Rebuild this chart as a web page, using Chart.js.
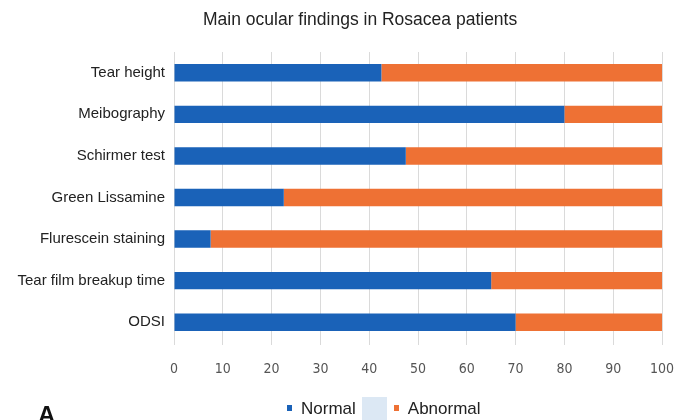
<!DOCTYPE html>
<html>
<head>
<meta charset="utf-8">
<script src="https://cdn.jsdelivr.net/npm/chart.js@4"></script>
<style>
    html, body { margin: 0; padding: 0; background: #fff; }
    .wrap { position: relative; width: 686px; height: 420px; overflow: hidden; }
    .chart-title { position: absolute; left: 203px; top: 9px; font: 17.5px "Liberation Sans", Arial, sans-serif; color: #222; white-space: nowrap; }
    .legend { position: absolute; left: 287px; top: 399px; font: 17px "Liberation Sans", Arial, sans-serif; color: #222; white-space: nowrap; }
    .legend span.item { display: inline-block; margin-right: 38px; }
    .legend i { display: inline-block; width: 5px; height: 6px; margin-right: 9px; vertical-align: 3px; }
    .legend-gap { position: absolute; left: 362px; top: 397px; width: 25px; height: 23px; background: #dce8f4; }
    .panel-label { position: absolute; left: 38px; top: 401px; font: bold 24px "Liberation Sans", Arial, sans-serif; color: #111; }
</style>
</head>
<body>
<div class="wrap">
    <canvas id="findingsChart" width="686" height="420"></canvas>
    <div class="chart-title">Main ocular findings in Rosacea patients</div>
    <div class="legend-gap"></div>
    <div class="legend" id="legend"></div>
    <div class="panel-label">A</div>
</div>
<script>
    // Data
    const categories = ["Tear height", "Meibography", "Schirmer test", "Green Lissamine", "Flurescein staining", "Tear film breakup time", "ODSI"];
    const normalValues = [42.5, 80, 47.5, 22.5, 7.5, 65, 70];
    const abnormalValues = [57.5, 20, 52.5, 77.5, 92.5, 35, 30];
    const xTicks = [0, 10, 20, 30, 40, 50, 60, 70, 80, 90, 100];

    const chart = new Chart(document.getElementById("findingsChart"), {
        type: "bar",
        data: {
            labels: categories,
            datasets: [
                { label: "Normal", data: normalValues, backgroundColor: "#1a62b8", barPercentage: 0.84, categoryPercentage: 0.5 },
                { label: "Abnormal", data: abnormalValues, backgroundColor: "#ee7134", barPercentage: 0.84, categoryPercentage: 0.5 }
            ]
        },
        options: {
            indexAxis: "y",
            responsive: false,
            animation: false,
            layout: { padding: { left: 0, right: 24, top: 52, bottom: 0 } },
            plugins: {
                legend: { display: false },
                tooltip: { enabled: false }
            },
            scales: {
                x: {
                    stacked: true,
                    min: 0,
                    max: 100,
                    afterBuildTicks: axis => { axis.ticks = xTicks.map(v => ({ value: v })); },
                    afterFit: axis => { axis.height = 77; axis.paddingLeft = 0; axis.paddingRight = 0; },
                    grid: { color: "#dadada", drawTicks: true, tickLength: 2 },
                    border: { display: false },
                    ticks: { color: "#555", font: { family: "'DejaVu Sans Condensed', sans-serif", size: 14 }, padding: 16 }
                },
                y: {
                    stacked: true,
                    afterFit: axis => { axis.width = 174; },
                    grid: { display: false, drawTicks: false },
                    border: { color: "#dadada" },
                    ticks: { color: "#222", font: { family: "Liberation Sans", size: 15 }, padding: 9 }
                }
            }
        }
    });

    // HTML legend from the datasets
    document.getElementById("legend").innerHTML = chart.data.datasets
        .map(ds => `<span class="item"><i style="background:${ds.backgroundColor}"></i>${ds.label}</span>`)
        .join("");
</script>
</body>
</html>
